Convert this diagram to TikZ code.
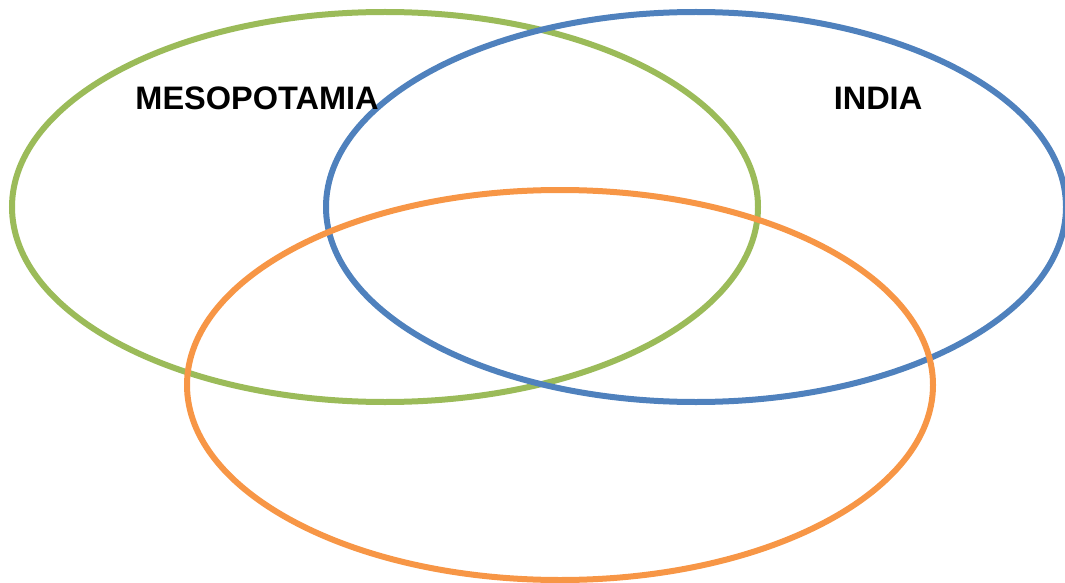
\documentclass[tikz,border=0pt]{standalone}
\usepackage{fontspec}
\setmainfont{Liberation Sans}
\definecolor{vgreen}{HTML}{9BBB59}
\definecolor{vblue}{HTML}{4F81BD}
\definecolor{vorange}{HTML}{F79646}
\begin{document}
\begin{tikzpicture}[x=1pt,y=-1pt,
  ring/.style={line width=6pt},
  lbl/.style={font=\fontsize{32.5}{37}\selectfont\bfseries, inner sep=0pt}]
\useasboundingbox (0,0) rectangle (1065,583);
\draw[ring, vgreen] (385,207) ellipse [x radius=373, y radius=195];
\draw[ring, vblue] (696,207) ellipse [x radius=370, y radius=195];
\draw[ring, vorange] (560,385) ellipse [x radius=373, y radius=195];
\node[lbl] (meso) at (257,98) {MESOPOTAMIA};
\node[lbl] (india) at (878,98) {INDIA};
\end{tikzpicture}
\end{document}
